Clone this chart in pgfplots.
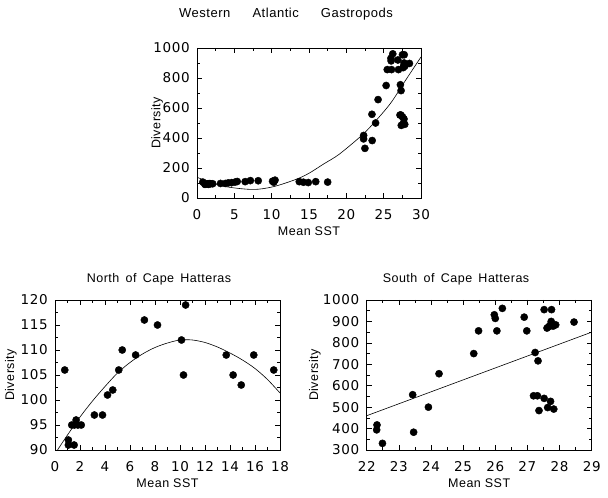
\documentclass[border=0pt]{standalone}
\usepackage{fontspec}
\setmainfont[LetterSpace=4]{Liberation Sans}
\newfontfamily\numfont[LetterSpace=5]{DejaVu Sans}
\usepackage{pgfplots}
\usepackage{pgfplotstable}
\pgfplotsset{compat=1.18}

\pgfplotstableread{
x y
0.78 106
1.07 92
1.07 91
1.53 91
1.34 95
1.69 96
1.55 95
1.83 95
2.10 95
3.15 97
3.80 97
4.20 101
4.62 102
5.10 106
5.38 110
6.45 109
7.15 116
8.20 115
10.12 112
10.28 105
10.45 119
13.70 109
14.25 105
14.90 103
15.90 109
17.50 106
}\north

\pgfplotstableread{
x y
22.32 417
22.31 394
22.49 331
23.43 558
23.46 383
23.92 500
24.25 656
25.33 750
25.48 856
25.97 931
26.00 914
26.05 856
26.22 961
26.90 920
26.98 856
27.24 755
27.33 716
27.19 553
27.31 553
27.36 484
27.52 541
27.52 955
27.61 869
27.63 498
27.72 527
27.75 955
27.66 875
27.70 881
27.74 900
27.82 491
27.80 878
27.88 884
28.45 897
}\south

\begin{document}
\fontsize{12.5bp}{15bp}\selectfont
\begin{tikzpicture}
\path[use as bounding box] (0bp,0bp) rectangle (608bp,498bp);
\pgfplotsset{
  panel/.style={
    scale only axis, width=225bp, height=150bp,
    anchor=south west,
    axis line style={line width=0.7pt},
    tick align=inside, tick pos=both,
    major tick length=5bp, minor tick length=3bp,
    minor tick num=1,
    every tick/.style={black, line width=0.6pt},
    /pgf/number format/assume math mode=true,
    /pgf/number format/1000 sep={},
    scaled ticks=false,
    ticklabel style={font=\numfont\fontsize{13.5bp}{15bp}\selectfont},
    xticklabel style={yshift=-7.5bp},
    yticklabel style={xshift=-3bp},
    label style={font=\fontsize{12.5bp}{15bp}\selectfont},
    xlabel={Mean SST}, ylabel={Diversity},
    xlabel style={at={(axis description cs:0.5,-0.22)}, anchor=center},
  },
  dots/.style={only marks, mark=*, mark size=3.6bp, mark options={fill=black, draw=black}},
  fit/.style={no marks, black, line width=0.6pt},
}

% Top: all
\begin{axis}[panel, at={(197bp,300bp)}, width=224bp,
  xmin=0, xmax=30, ymin=0, ymax=1000,
  xtick={0,5,...,30}, ytick={0,200,...,1000},
  ylabel style={at={(axis description cs:-0.178,0.5)}, anchor=center}]
  \addplot[dots] table[x=x,y=y] {\north};
  \addplot[dots] table[x=x,y=y] {\south};
  \addplot[fit, smooth] coordinates {(0,138) (3.4,80) (7.4,57) (10.2,75) (13.3,125) (15,165) (17,228) (19,290) (21.9,410) (23.5,490) (25.9,630) (28,790) (30,940)};
\end{axis}

% Bottom left: North
\begin{axis}[panel, at={(55bp,48bp)},
  xmin=0, xmax=18, ymin=90, ymax=120,
  xtick={0,2,...,18}, ytick={90,95,...,120},
  ylabel style={at={(axis description cs:-0.196,0.5)}, anchor=center}]
  \addplot[dots] table[x=x,y=y] {\north};
  \addplot[fit, smooth] coordinates {(0.2,90) (1,93) (2,96.6) (3,99.8) (4,102.7) (5,105.4) (6,107.5) (7,109.2) (8,110.5) (9,111.4) (10,112) (11,112) (12,111.5) (13,110.6) (14,109.4) (15,108) (16,106.3) (17,104.1) (18,101.4)};
\end{axis}

% Bottom right: South
\begin{axis}[panel, at={(366.7bp,48bp)},
  xmin=22, xmax=29, ymin=300, ymax=1000,
  xtick={22,...,29}, ytick={300,400,...,1000},
  ylabel style={at={(axis description cs:-0.23,0.5)}, anchor=center}]
  \addplot[dots] table[x=x,y=y] {\south};
  \addplot[fit] coordinates {(22,460) (29,850)};
\end{axis}

\node[font=\fontsize{13bp}{15bp}\selectfont] at (286bp,484bp) {Western\hspace{1.7em}Atlantic\hspace{1.7em}Gastropods};
\node at (159bp,219bp) {North\hspace{0.5em}of\hspace{0.5em}Cape\hspace{0.5em}Hatteras};
\node at (456bp,219bp) {South\hspace{0.5em}of\hspace{0.5em}Cape\hspace{0.5em}Hatteras};
\end{tikzpicture}
\end{document}
